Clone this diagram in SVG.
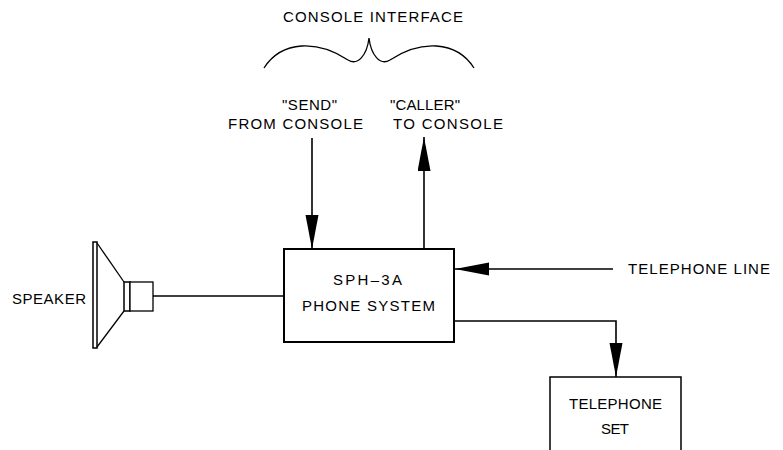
<svg xmlns="http://www.w3.org/2000/svg" width="783" height="450" viewBox="0 0 783 450">
<style>
  text { font-family: "Liberation Sans", Arial, sans-serif; font-size: 15px; fill: #000; }
  .box { fill: #fff; stroke: #000; stroke-width: 2; }
  .thin { fill: none; stroke: #000; stroke-width: 1.3; }
  .wire { fill: none; stroke: #000; stroke-width: 1.6; }
</style>
<defs>
  <marker id="arr" markerUnits="userSpaceOnUse" markerWidth="36" markerHeight="14" refX="34" refY="6.5" orient="auto">
    <path d="M0,0 L34,6.5 L0,13 Z" fill="#000"/>
  </marker>
</defs>
<rect width="783" height="450" fill="#fff"/>

<g id="console-interface">
  <text x="283" y="22" textLength="180" lengthAdjust="spacing">CONSOLE  INTERFACE</text>
  <path class="thin" d="M264,68 C282,40 318,40 348,60 C358,66 367,55 369,38 C371,55 380,66 390,60 C420,40 456,40 474,68"/>
</g>

<g id="send-label">
  <text x="282" y="110" textLength="55" lengthAdjust="spacing">"SEND"</text>
  <text x="228" y="129" textLength="135" lengthAdjust="spacing">FROM  CONSOLE</text>
</g>

<g id="caller-label">
  <text x="390" y="110" textLength="70" lengthAdjust="spacing">"CALLER"</text>
  <text x="393" y="129" textLength="110" lengthAdjust="spacing">TO  CONSOLE</text>
</g>

<g id="connectors">
  <line class="wire" x1="312" y1="138" x2="312" y2="249" marker-end="url(#arr)"/>
  <line class="wire" x1="424" y1="249" x2="424" y2="137" marker-end="url(#arr)"/>
  <line class="wire" x1="613" y1="269" x2="455" y2="269" marker-end="url(#arr)"/>
  <polyline class="wire" points="455,321 616,321 616,377" marker-end="url(#arr)"/>
  <line class="wire" x1="153" y1="296" x2="284" y2="296"/>
</g>

<g id="speaker">
  <rect x="93" y="242" width="4" height="106" fill="#fff" stroke="#000" stroke-width="1.5"/>
  <line class="thin" x1="97" y1="243" x2="124" y2="282"/>
  <line class="thin" x1="97" y1="347" x2="124" y2="311"/>
  <rect x="124" y="282" width="6" height="29" fill="#fff" stroke="#000" stroke-width="1.5"/>
  <rect x="130" y="282" width="23" height="29" fill="#fff" stroke="#000" stroke-width="1.3"/>
  <text x="12" y="304" textLength="74" lengthAdjust="spacing">SPEAKER</text>
</g>

<g id="phone-system">
  <rect class="box" x="284" y="249" width="170" height="93"/>
  <text x="333" y="285" textLength="69" lengthAdjust="spacing">SPH–3A</text>
  <text x="302" y="311" textLength="133" lengthAdjust="spacing">PHONE  SYSTEM</text>
</g>

<g id="telephone-line">
  <text x="628" y="274" textLength="142" lengthAdjust="spacing">TELEPHONE  LINE</text>
</g>

<g id="telephone-set">
  <path d="M550,460 L550,377 L681,377 L681,460" fill="#fff" stroke="#000" stroke-width="1.5"/>
  <text x="569" y="409" textLength="93" lengthAdjust="spacing">TELEPHONE</text>
  <text x="601" y="434" textLength="28" lengthAdjust="spacing">SET</text>
</g>
</svg>
